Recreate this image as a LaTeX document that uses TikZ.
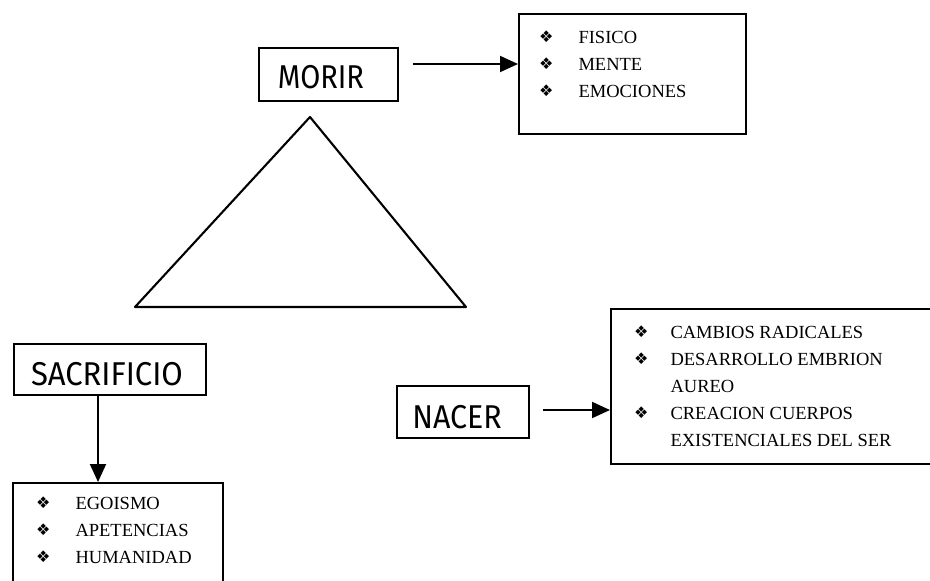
\documentclass[tikz,border=0pt]{standalone}
\usepackage{fontspec}
\setmainfont{Liberation Serif}
\newfontfamily\handfont{Fira Sans}
\newfontfamily\bulletfont{DejaVu Sans}
\usetikzlibrary{arrows.meta}
\newcommand{\bul}{\raisebox{1pt}{\bulletfont\fontsize{16}{16}\selectfont ❖}}
\tikzset{
  x=1pt, y=-1pt,
  box/.style={draw, line width=1.9pt, inner sep=0pt},
  hand/.style={font=\handfont\fontsize{33}{33}\selectfont, inner sep=0pt, anchor=base},
  items/.style={font=\fontsize{18.5}{18.5}\selectfont, inner sep=0pt, anchor=base west},
  conn/.style={line width=1.9pt, -{Triangle[length=18pt,width=16pt]}},
  tri/.style={line width=2.1pt, line join=round}
}
\begin{document}
\begin{tikzpicture}
\useasboundingbox (0,0) rectangle (930,581);
\clip (0,0) rectangle (930,581);
% boxes
\node[box, minimum width=139pt, minimum height=53pt, anchor=north west] (morir) at (258,47) {};
\node[hand] (morirt) at (321,88) {\scalebox{0.88}[1]{MORIR}};
\node[box, minimum width=227pt, minimum height=120pt, anchor=north west] (fis) at (518,13) {};
\node[items] (fist) at (539,43) {\begin{tabular}[t]{@{}l@{\hspace{25pt}}l@{}}
\bul & FISICO\\[8.5pt]
\bul & MENTE\\[8.5pt]
\bul & EMOCIONES
\end{tabular}};
\node[box, minimum width=192pt, minimum height=51pt, anchor=north west] (sac) at (13,343) {};
\node[hand] (sact) at (107,385) {\scalebox{0.94}[1]{SACRIFICIO}};
\node[box, minimum width=210pt, minimum height=120pt, anchor=north west] (hum) at (12,482) {};
\node[items] (humt) at (36,509) {\begin{tabular}[t]{@{}l@{\hspace{25pt}}l@{}}
\bul & EGOISMO\\[8.5pt]
\bul & APETENCIAS\\[8.5pt]
\bul & HUMANIDAD
\end{tabular}};
\node[box, minimum width=132pt, minimum height=52pt, anchor=north west] (nac) at (396,385) {};
\node[hand] (nact) at (457,428) {\scalebox{0.92}[1]{NACER}};
\node[box, minimum width=330pt, minimum height=155pt, anchor=north west] (cam) at (610,308) {};
\node[items] (camt) at (634,338) {\begin{tabular}[t]{@{}l@{\hspace{22pt}}l@{}}
\bul & CAMBIOS RADICALES\\[8.5pt]
\bul & DESARROLLO EMBRION\\[8.5pt]
 & AUREO\\[8.5pt]
\bul & CREACION CUERPOS\\[8.5pt]
 & EXISTENCIALES DEL SER
\end{tabular}};
% triangle
\coordinate (ta) at (310,117);
\coordinate (tl) at (135,307);
\coordinate (tr) at (466,307);
\draw[tri] (ta) -- (tl) -- (tr) -- cycle;
% arrows
\coordinate (m1) at (413,64);
\coordinate (n1) at (543,410);
\draw[conn] (m1) -- (fis.west |- m1);
\draw[conn] (n1) -- (cam.west |- n1);
\draw[conn] (sac.south -| 98,0) -- (hum.north -| 98,0);
\end{tikzpicture}
\end{document}
